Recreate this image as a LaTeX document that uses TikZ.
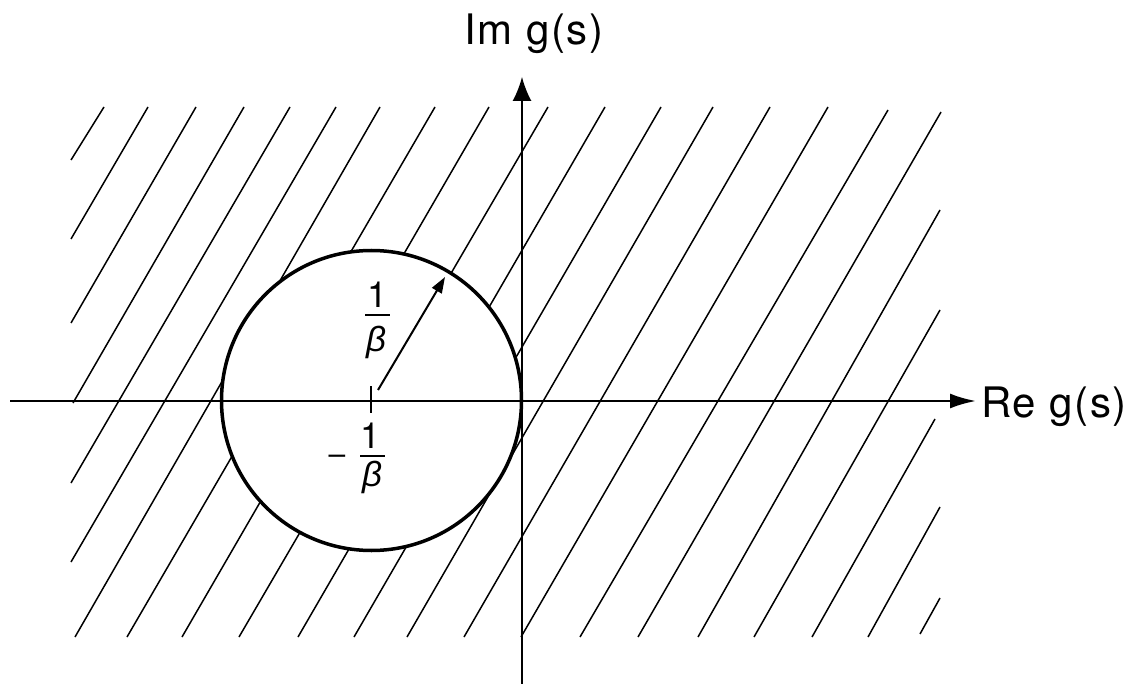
\documentclass[tikz,border=0pt]{standalone}
\usepackage{fontspec}
\setmainfont{TeX Gyre Heros}
\newfontfamily\lblfont[LetterSpace=4]{TeX Gyre Heros}
\newfontfamily\grkfont{Liberation Sans}
\usetikzlibrary{arrows.meta}
\begin{document}
\begin{tikzpicture}[x=1pt,y=-1pt,
  hatch/.style={line width=1.5pt},
  axisline/.style={line width=2.5pt},
  lbl/.style={font=\lblfont\fontsize{42}{48}\selectfont, inner sep=0pt},
  numlbl/.style={font=\fontsize{36}{40}\selectfont, inner sep=0pt},
  betalbl/.style={font=\grkfont\itshape\fontsize{35}{40}\selectfont, inner sep=0pt},
  dashlbl/.style={font=\fontsize{30}{36}\selectfont, inner sep=0pt},
  fracbar/.style={line width=2pt}]
\useasboundingbox (0,0) rectangle (1145,684);
% hatching
\foreach \ax/\ay/\bx/\by in {104/107/71/160, 148/107/71/239, 196/107/71/323,
  244/107/73/403, 290/107/71/483, 336/107/71/562, 380/107/75/637,
  435/107/127/637, 489/107/182/637, 548/107/239/637, 605/107/298/637,
  661/107/354/637, 713/107/407/637, 770/107/464/637, 828/107/521/637,
  888/110/580/637, 941/112/638/637, 940/210/698/637, 940/310/754/637,
  935/419/812/637, 940/507/868/637, 940/598/920/634}
  \draw[hatch] (\ax,\ay) -- (\bx,\by);
% circle
\coordinate (C) at (371.5,400.5);
\fill[white] (C) circle[radius=150];
\draw[line width=3.5pt] (C) circle[radius=150];
% axes
\coordinate (xL) at (10,401);
\coordinate (xR) at (976,401);
\coordinate (yB) at (522,684);
\coordinate (yT) at (522,77);
\draw[axisline, -{Latex[length=26pt,width=15pt]}] (xL) -- (xR);
\draw[line width=1.6pt, -{Latex[length=24pt,width=19pt]}] (yB) -- (yT);
% centre tick and radius arrow
\coordinate (t1) at (371,386);
\coordinate (t2) at (371,413);
\draw[line width=2pt] (t1) -- (t2);
\coordinate (r0) at (378,390);
\coordinate (r1) at (445,277);
\draw[line width=2pt, -{Triangle[length=16pt,width=11pt]}] (r0) -- (r1);
% axis labels
\node[lbl, anchor=base] (im) at (534,45) {Im g(s)};
\node[lbl, anchor=base west] (re) at (981,417) {Re g(s)};
% upper fraction 1/beta
\node[numlbl, anchor=base] (one1) at (378,308) {1};
\coordinate (fb1a) at (365,315);
\coordinate (fb1b) at (390,315);
\draw[fracbar] (fb1a) -- (fb1b);
\node[betalbl, anchor=base] (beta1) at (376,351) {β};
% lower fraction -1/beta
\node[numlbl, anchor=base] (one2) at (371,448) {1};
\coordinate (fb2a) at (360,456);
\coordinate (fb2b) at (385,456);
\draw[fracbar] (fb2a) -- (fb2b);
\node[dashlbl, anchor=base] (minus) at (337,464) {–};
\node[betalbl, anchor=base] (beta2) at (372,486) {β};
\end{tikzpicture}
\end{document}
